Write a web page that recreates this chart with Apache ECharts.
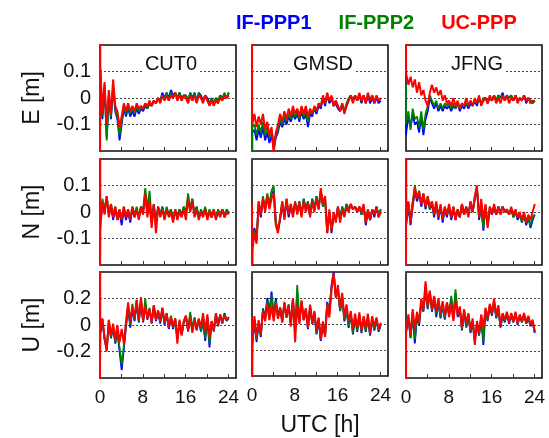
<!DOCTYPE html>
<html lang="en">

<head>
    <meta charset="UTF-8">
    <title>PPP position errors</title>
    <script src="https://cdn.jsdelivr.net/npm/echarts@6/dist/echarts.min.js"></script>
</head>

<body style="margin:0;background:#fff">
    <div id="main" style="width: 549px;height:438px;"></div>

    <script type="text/javascript">
        // epochs: two start epochs (convergence spike), then every 0.4 h
        let hours = [0, 0.02];
        for (let i = 0; i <= 60; i++) hours.push(+(0.05 + 0.4 * i).toFixed(2));

        let stations = ['CUT0', 'GMSD', 'JFNG'];
        let components = ['E', 'N', 'U'];
        let methods = ['IF-PPP1', 'IF-PPP2', 'UC-PPP'];
        let methodColors = ['#0000ff', '#008000', '#ff0000'];
        let xTickLabels = [0, 8, 16, 24];

        // ---- E [m] ----
        let cut0E_if1 = [0.3, -0.3,
            0.11, -0.08, 0.04, -0.15, 0.00, -0.08, 0.04, -0.05, -0.08, -0.16,
            -0.10, -0.04, -0.07, -0.04, -0.07, -0.05, -0.07, -0.04, -0.06, -0.04,
            -0.05, -0.03, -0.04, -0.02, -0.03, -0.01, -0.02, 0.00, -0.01, 0.02,
            0.00, 0.02, 0.00, 0.03, 0.01, 0.02, 0.00, 0.02, 0.00, 0.01,
            0.01, -0.01, 0.02, 0.00, 0.02, -0.01, 0.02, 0.01, -0.01, 0.01,
            0.00, -0.02, 0.00, -0.02, 0.00, -0.01, 0.01, 0.00, 0.01, 0.00, 0.02];
        let cut0E_if2 = [0.3, -0.3,
            0.10, -0.07, 0.05, -0.16, 0.01, -0.07, 0.05, -0.04, -0.07, -0.14,
            -0.09, -0.03, -0.06, -0.03, -0.06, -0.04, -0.06, -0.03, -0.05, -0.04,
            -0.04, -0.02, -0.04, -0.02, -0.03, -0.01, -0.02, 0.00, -0.01, 0.01,
            0.00, 0.02, -0.01, 0.02, 0.00, 0.02, 0.00, 0.02, -0.01, 0.01,
            0.01, -0.01, 0.02, -0.01, 0.02, -0.01, 0.02, 0.00, -0.01, 0.01,
            -0.01, -0.02, 0.00, -0.02, 0.00, -0.01, 0.01, 0.00, 0.02, 0.00, 0.02];
        let cut0E_uc = [-1, 1,
            0.12, -0.06, 0.06, -0.10, 0.03, -0.06, 0.07, -0.03, -0.05, -0.11,
            -0.07, -0.02, -0.05, -0.02, -0.05, -0.03, -0.05, -0.02, -0.04, -0.03,
            -0.04, -0.02, -0.03, -0.01, -0.03, -0.01, -0.02, 0.00, -0.02, 0.01,
            -0.01, 0.01, -0.01, 0.01, 0.00, 0.02, -0.01, 0.01, -0.01, 0.01,
            0.00, -0.02, 0.01, -0.01, 0.01, -0.02, 0.01, 0.00, -0.02, 0.01,
            -0.01, -0.03, -0.01, -0.03, -0.01, -0.02, 0.00, -0.01, 0.01, 0.00, 0.01];

        let gmsdE_if1 = [0.0, -0.5,
            -0.13, -0.12, -0.16, -0.12, -0.15, -0.11, -0.16, -0.13, -0.17, -0.14,
            -0.19, -0.15, -0.13, -0.09, -0.11, -0.08, -0.10, -0.07, -0.09, -0.06,
            -0.08, -0.06, -0.09, -0.05, -0.08, -0.06, -0.11, -0.06, -0.07, -0.04,
            -0.06, -0.03, -0.04, 0.00, -0.03, 0.01, -0.02, 0.00, -0.03, -0.02,
            -0.04, -0.05, -0.03, -0.05, -0.03, -0.01, 0.01, -0.01, 0.01, -0.01,
            0.01, -0.02, 0.01, -0.02, 0.01, -0.02, 0.00, -0.02, 0.00, -0.02, -0.01];
        let gmsdE_if2 = [0.0, -0.5,
            -0.11, -0.10, -0.14, -0.10, -0.13, -0.09, -0.14, -0.11, -0.15, -0.12,
            -0.17, -0.14, -0.12, -0.08, -0.10, -0.07, -0.09, -0.06, -0.08, -0.05,
            -0.07, -0.05, -0.08, -0.04, -0.07, -0.05, -0.09, -0.05, -0.06, -0.04,
            -0.05, -0.02, -0.03, 0.00, -0.02, 0.01, -0.01, 0.00, -0.03, -0.01,
            -0.03, -0.05, -0.02, -0.05, -0.02, 0.00, 0.01, -0.01, 0.01, -0.01,
            0.01, -0.01, 0.01, -0.02, 0.01, -0.01, 0.01, -0.01, 0.00, -0.01, 0.00];
        let gmsdE_uc = [1, -0.06,
            -0.10, -0.06, -0.11, -0.07, -0.10, -0.06, -0.12, -0.09, -0.14, -0.11,
            -0.21, -0.13, -0.10, -0.06, -0.09, -0.05, -0.08, -0.04, -0.07, -0.03,
            -0.06, -0.04, -0.07, -0.03, -0.06, -0.03, -0.07, -0.04, -0.06, -0.03,
            -0.05, -0.02, -0.03, 0.01, -0.02, 0.02, -0.01, 0.01, -0.03, -0.01,
            -0.03, -0.05, -0.02, -0.06, -0.03, -0.01, 0.01, -0.02, 0.01, -0.01,
            0.02, -0.01, 0.01, -0.02, 0.02, -0.01, 0.01, -0.02, 0.01, -0.01, 0.00];

        let jfngE_if1 = [0.0, -0.14,
            -0.13, -0.07, -0.11, -0.06, -0.10, -0.09, -0.13, -0.07, -0.14, -0.08,
            -0.05, 0.00, -0.02, -0.04, -0.02, -0.05, -0.03, -0.05, -0.03, -0.04,
            -0.03, -0.05, -0.03, -0.04, -0.02, -0.05, -0.03, -0.04, -0.02, -0.04,
            -0.02, -0.03, -0.01, -0.03, 0.00, -0.02, -0.01, 0.00, -0.02, 0.00,
            -0.01, 0.01, -0.01, 0.01, 0.00, 0.02, -0.01, 0.01, 0.00, 0.01,
            -0.01, 0.01, -0.01, 0.00, -0.01, 0.01, -0.02, 0.00, -0.01, -0.02, -0.01];
        let jfngE_if2 = [0.05, -0.10,
            -0.09, -0.05, -0.12, -0.04, -0.08, -0.07, -0.11, -0.05, -0.12, -0.06,
            -0.03, 0.01, -0.01, -0.03, -0.01, -0.04, -0.02, -0.04, -0.02, -0.03,
            -0.02, -0.04, -0.02, -0.04, -0.02, -0.04, -0.02, -0.03, -0.02, -0.03,
            -0.01, -0.03, -0.01, -0.02, 0.00, -0.02, 0.00, 0.00, -0.01, 0.00,
            -0.01, 0.01, -0.01, 0.01, 0.00, 0.01, -0.01, 0.01, 0.00, 0.01,
            -0.01, 0.01, -0.01, 0.00, -0.01, 0.01, -0.01, 0.00, -0.01, -0.02, -0.01];
        let jfngE_uc = [1, 0.10,
            0.09, 0.05, 0.08, 0.04, 0.07, 0.02, 0.06, 0.01, 0.03, -0.01,
            -0.03, 0.02, 0.05, 0.02, 0.04, 0.01, 0.03, -0.01, 0.01, -0.02,
            -0.01, -0.03, 0.00, -0.03, -0.01, -0.04, -0.02, -0.03, 0.00, -0.03,
            -0.01, -0.03, 0.00, -0.02, 0.01, -0.03, -0.01, 0.00, -0.02, 0.01,
            -0.01, 0.01, -0.02, 0.00, -0.02, 0.01, -0.01, 0.01, -0.02, 0.00,
            -0.01, 0.01, -0.02, 0.00, -0.01, 0.01, -0.01, 0.00, -0.02, -0.01, -0.01];

        // ---- N [m] ----
        let cut0N_if1 = [0.3, -0.3,
            -0.05, 0.03, 0.00, 0.05, -0.01, 0.02, -0.03, 0.01, -0.03, 0.00,
            -0.05, 0.01, -0.03, 0.00, -0.04, 0.01, -0.02, 0.01, -0.02, 0.02,
            0.00, 0.06, 0.00, 0.04, -0.04, 0.03, -0.05, 0.02, -0.01, 0.02,
            -0.02, 0.01, -0.01, 0.01, -0.03, 0.00, -0.02, 0.01, -0.01, 0.02,
            -0.01, 0.05, 0.01, 0.05, -0.01, 0.02, -0.02, 0.00, -0.01, 0.01,
            -0.02, 0.00, -0.02, 0.00, -0.02, 0.00, -0.01, 0.01, -0.02, 0.00, 0.00];
        let cut0N_if2 = [0.3, -0.3,
            -0.04, 0.05, 0.01, 0.06, 0.00, 0.03, -0.01, 0.02, -0.02, 0.01,
            -0.03, 0.02, -0.02, 0.01, -0.03, 0.02, -0.01, 0.02, -0.02, 0.02,
            0.01, 0.09, 0.01, 0.08, -0.03, 0.03, -0.04, 0.02, -0.01, 0.02,
            -0.02, 0.02, -0.01, 0.01, -0.03, 0.01, -0.02, 0.01, -0.01, 0.02,
            0.00, 0.07, 0.01, 0.05, -0.01, 0.02, -0.02, 0.01, -0.01, 0.02,
            -0.02, 0.01, -0.01, 0.01, -0.02, 0.01, -0.01, 0.01, -0.01, 0.01, 0.00];
        let cut0N_uc = [-1, 1,
            -0.06, 0.04, -0.01, 0.06, -0.02, 0.03, -0.02, 0.02, -0.03, 0.01,
            -0.03, 0.02, -0.02, 0.01, -0.03, 0.02, -0.02, 0.01, -0.03, 0.02,
            -0.01, 0.07, -0.02, 0.04, -0.06, 0.03, -0.08, 0.02, -0.02, 0.01,
            -0.03, 0.01, -0.02, 0.00, -0.04, 0.01, -0.03, 0.00, -0.02, 0.01,
            -0.03, 0.05, 0.00, 0.04, -0.02, 0.01, -0.03, 0.00, -0.02, 0.01,
            -0.03, 0.00, -0.02, 0.01, -0.03, 0.00, -0.02, 0.01, -0.02, 0.00, -0.01];

        let gmsdN_if1 = [0.0, -0.5,
            -0.12, -0.06, -0.10, 0.03, -0.02, 0.05, 0.01, 0.06, 0.02, 0.07,
            0.08, -0.04, -0.07, -0.03, 0.03, -0.02, 0.04, -0.02, 0.02, -0.01,
            0.03, 0.00, 0.04, -0.01, 0.05, 0.01, 0.04, -0.01, 0.05, 0.01,
            0.06, 0.01, 0.08, 0.02, 0.05, -0.07, 0.00, -0.08, -0.01, -0.03,
            0.02, -0.03, 0.02, -0.01, 0.03, 0.01, 0.03, 0.01, 0.02, 0.00,
            0.02, -0.01, 0.02, -0.05, 0.00, -0.03, 0.01, -0.02, 0.02, -0.02, 0.01];
        let gmsdN_if2 = [0.0, -0.5,
            -0.13, -0.07, -0.11, 0.04, -0.01, 0.06, 0.01, 0.07, 0.03, 0.08,
            0.10, -0.04, -0.07, -0.02, 0.04, -0.02, 0.05, -0.01, 0.03, -0.01,
            0.04, 0.00, 0.04, -0.01, 0.05, 0.01, 0.04, -0.01, 0.05, 0.01,
            0.06, 0.02, 0.08, 0.02, 0.05, -0.08, 0.00, -0.07, -0.01, -0.03,
            0.02, -0.03, 0.02, -0.01, 0.03, 0.01, 0.03, 0.01, 0.02, 0.00,
            0.02, -0.01, 0.02, -0.04, 0.01, -0.03, 0.01, -0.01, 0.02, -0.01, 0.01];
        let gmsdN_uc = [0.03, -1,
            -0.15, -0.08, -0.12, 0.04, -0.01, 0.05, 0.00, 0.06, 0.01, 0.05,
            0.07, -0.05, -0.08, -0.02, 0.04, -0.03, 0.05, -0.01, 0.03, -0.02,
            0.04, -0.01, 0.03, -0.02, 0.04, 0.00, 0.03, -0.02, 0.04, 0.00,
            0.05, 0.01, 0.09, 0.03, 0.06, -0.08, 0.01, -0.07, 0.00, -0.04,
            0.02, -0.04, 0.01, -0.02, 0.02, 0.00, 0.03, 0.01, 0.02, 0.00,
            0.02, 0.00, 0.03, -0.04, 0.01, -0.03, 0.01, -0.01, 0.02, -0.02, 0.00];

        let jfngN_if1 = [0.3, -0.05,
            -0.05, 0.02, -0.05, 0.02, 0.08, 0.04, 0.07, 0.02, 0.06, 0.01,
            0.05, 0.01, 0.03, -0.02, 0.03, -0.03, 0.02, -0.04, 0.01, -0.02,
            0.02, -0.03, 0.01, -0.03, 0.01, -0.02, 0.03, -0.01, 0.02, -0.01,
            0.03, 0.00, 0.05, 0.09, -0.03, 0.02, -0.07, 0.02, -0.05, 0.01,
            -0.01, 0.02, -0.01, 0.02, 0.00, 0.02, 0.00, 0.01, -0.01, 0.01,
            -0.02, 0.00, -0.03, -0.01, -0.04, -0.01, -0.05, -0.02, -0.06, -0.03, -0.01];
        let jfngN_if2 = [0.3, -0.05,
            -0.04, 0.03, -0.03, 0.04, 0.10, 0.05, 0.08, 0.03, 0.07, 0.02,
            0.06, 0.01, 0.04, -0.01, 0.03, -0.02, 0.02, -0.03, 0.02, -0.01,
            0.02, -0.02, 0.02, -0.02, 0.01, -0.02, 0.03, -0.01, 0.02, -0.01,
            0.04, 0.00, 0.05, 0.09, -0.02, 0.01, -0.06, 0.02, -0.05, 0.02,
            0.00, 0.02, -0.01, 0.02, 0.00, 0.02, 0.00, 0.01, -0.01, 0.01,
            -0.02, 0.00, -0.02, -0.01, -0.04, -0.01, -0.04, -0.02, -0.05, -0.02, -0.01];
        let jfngN_uc = [-1, 1,
            -0.02, 0.04, -0.04, 0.03, 0.09, 0.05, 0.08, 0.03, 0.07, 0.02,
            0.06, 0.02, 0.04, -0.01, 0.04, -0.02, 0.03, -0.03, 0.02, -0.01,
            0.03, -0.02, 0.02, -0.03, 0.01, -0.02, 0.03, -0.01, 0.02, -0.02,
            0.04, 0.00, 0.06, 0.10, -0.02, 0.05, -0.03, 0.03, -0.06, 0.02,
            -0.01, 0.03, -0.01, 0.02, -0.01, 0.02, 0.00, 0.01, -0.01, 0.02,
            -0.01, 0.01, -0.02, 0.00, -0.03, 0.00, -0.04, -0.01, -0.03, 0.00, 0.03];

        // ---- U [m] ----
        let cut0U_if1 = [0.3, -0.3,
            -0.07, 0.03, -0.11, -0.18, 0.02, -0.10, -0.02, -0.14, -0.05, -0.20,
            -0.34, -0.18, -0.02, 0.13, -0.02, 0.12, 0.03, 0.16, 0.02, 0.17,
            0.02, 0.16, 0.04, 0.12, 0.01, 0.14, 0.03, 0.10, 0.01, 0.12,
            0.00, 0.08, -0.03, 0.05, -0.03, 0.04, -0.10, 0.02, -0.07, 0.02,
            0.06, -0.05, 0.07, -0.04, 0.05, -0.04, 0.04, -0.05, 0.02, -0.12,
            0.05, -0.17, 0.02, -0.05, 0.07, -0.01, 0.07, 0.01, 0.09, 0.03, 0.06];
        let cut0U_if2 = [0.3, -0.3,
            -0.06, 0.04, -0.10, -0.19, 0.03, -0.09, -0.01, -0.13, -0.04, -0.17,
            -0.30, -0.16, 0.00, 0.15, 0.00, 0.16, 0.04, 0.19, 0.03, 0.20,
            0.03, 0.20, 0.05, 0.13, 0.02, 0.15, 0.04, 0.11, 0.02, 0.13,
            0.01, 0.09, -0.02, 0.07, -0.02, 0.05, -0.10, 0.03, -0.07, 0.03,
            0.07, -0.04, 0.10, -0.03, 0.06, -0.03, 0.04, -0.04, 0.03, -0.10,
            0.06, -0.14, 0.03, -0.04, 0.08, 0.00, 0.08, 0.02, 0.08, 0.04, 0.05];
        let cut0U_uc = [-1, 1,
            -0.05, 0.05, -0.09, -0.20, 0.04, -0.08, 0.01, -0.11, 0.00, -0.13,
            -0.03, -0.14, 0.02, 0.17, 0.02, 0.14, 0.05, 0.19, 0.04, 0.21,
            0.03, 0.14, 0.05, 0.12, 0.02, 0.15, 0.04, 0.11, 0.03, 0.13,
            0.02, 0.09, -0.02, 0.06, -0.01, 0.05, -0.14, 0.04, -0.08, 0.03,
            0.07, -0.04, 0.06, -0.06, 0.04, -0.03, 0.05, -0.02, 0.09, -0.05,
            0.08, -0.09, 0.03, -0.04, 0.09, 0.00, 0.08, 0.02, 0.07, 0.04, 0.05];

        let gmsdU_if1 = [0.0, -0.5,
            -0.17, 0.03, -0.14, 0.00, -0.10, 0.12, 0.05, 0.20, 0.09, 0.25,
            0.06, 0.20, 0.05, 0.13, 0.02, 0.16, 0.05, 0.15, 0.00, 0.19,
            -0.06, 0.24, 0.02, 0.17, 0.03, 0.11, -0.04, 0.13, 0.00, 0.08,
            -0.08, 0.03, -0.13, 0.00, -0.09, 0.17, 0.10, 0.30, 0.40, 0.22,
            0.26, 0.10, 0.20, 0.02, 0.11, -0.03, 0.07, -0.08, 0.05, -0.06,
            0.06, -0.07, 0.04, -0.06, 0.05, -0.09, 0.03, -0.05, 0.03, -0.06, -0.01];
        let gmsdU_if2 = [0.0, -0.5,
            -0.16, 0.04, -0.12, 0.01, -0.09, 0.11, 0.04, 0.18, 0.07, 0.22,
            0.05, 0.18, 0.05, 0.13, 0.02, 0.16, 0.05, 0.15, 0.00, 0.20,
            -0.06, 0.30, 0.02, 0.18, 0.03, 0.12, -0.03, 0.14, 0.00, 0.09,
            -0.07, 0.04, -0.12, 0.01, -0.09, 0.16, 0.08, 0.28, 0.39, 0.21,
            0.27, 0.10, 0.21, 0.03, 0.12, -0.02, 0.08, -0.07, 0.06, -0.05,
            0.07, -0.06, 0.05, -0.05, 0.06, -0.08, 0.04, -0.04, 0.04, -0.05, 0.00];
        let gmsdU_uc = [0.05, -1,
            -0.15, 0.06, -0.10, 0.03, -0.08, 0.10, 0.02, 0.15, 0.03, 0.14,
            0.02, 0.16, 0.04, 0.12, 0.01, 0.17, 0.06, 0.14, -0.02, 0.20,
            -0.14, 0.15, 0.00, 0.18, 0.03, 0.12, -0.03, 0.15, 0.01, 0.10,
            -0.05, 0.05, -0.12, 0.02, -0.10, 0.15, 0.05, 0.26, 0.39, 0.20,
            0.30, 0.12, 0.24, 0.05, 0.15, 0.02, 0.10, -0.04, 0.08, -0.03,
            0.09, -0.05, 0.06, -0.03, 0.08, -0.07, 0.06, -0.02, 0.05, -0.04, 0.01];

        let jfngU_if1 = [-0.5, 0.0,
            -0.05, 0.05, -0.10, 0.08, -0.14, 0.06, 0.00, 0.17, 0.10, 0.26,
            0.12, 0.24, 0.10, 0.20, 0.06, 0.17, 0.05, 0.15, 0.04, 0.16,
            0.08, 0.20, 0.05, 0.24, 0.06, 0.12, -0.04, 0.10, -0.02, 0.07,
            -0.06, 0.02, -0.12, 0.00, -0.08, 0.05, -0.15, 0.10, 0.03, 0.14,
            0.07, 0.17, 0.05, 0.12, -0.02, 0.07, 0.02, 0.08, 0.01, 0.07,
            0.02, 0.08, 0.00, 0.07, 0.02, 0.08, 0.01, 0.05, -0.01, 0.02, -0.06];
        let jfngU_if2 = [-0.5, 0.0,
            -0.04, 0.06, -0.09, 0.10, -0.11, 0.08, 0.01, 0.18, 0.11, 0.28,
            0.13, 0.25, 0.11, 0.21, 0.08, 0.18, 0.06, 0.16, 0.05, 0.17,
            0.08, 0.22, 0.06, 0.27, 0.08, 0.13, -0.03, 0.11, -0.01, 0.08,
            -0.05, 0.03, -0.11, 0.01, -0.07, 0.06, -0.12, 0.11, 0.04, 0.15,
            0.08, 0.18, 0.06, 0.13, -0.01, 0.08, 0.03, 0.09, 0.02, 0.08,
            0.02, 0.09, 0.01, 0.07, 0.02, 0.08, 0.01, 0.06, 0.00, 0.03, -0.05];
        let jfngU_uc = [-1, 0.0,
            -0.03, 0.08, -0.08, 0.12, -0.03, 0.10, 0.02, 0.20, 0.12, 0.33,
            0.15, 0.26, 0.12, 0.22, 0.10, 0.20, 0.09, 0.18, 0.07, 0.17,
            0.06, 0.16, 0.03, 0.18, 0.08, 0.14, -0.02, 0.12, 0.01, 0.09,
            -0.04, 0.05, -0.15, 0.03, -0.06, 0.08, -0.02, 0.13, 0.05, 0.16,
            0.09, 0.20, 0.07, 0.15, -0.01, 0.09, 0.04, 0.10, 0.02, 0.09,
            0.03, 0.10, 0.01, 0.08, 0.03, 0.09, 0.02, 0.07, 0.00, 0.04, -0.05];

        // panel data [row][col] -> [IF-PPP1, IF-PPP2, UC-PPP]
        let panels = [
            [[cut0E_if1, cut0E_if2, cut0E_uc], [gmsdE_if1, gmsdE_if2, gmsdE_uc], [jfngE_if1, jfngE_if2, jfngE_uc]],
            [[cut0N_if1, cut0N_if2, cut0N_uc], [gmsdN_if1, gmsdN_if2, gmsdN_uc], [jfngN_if1, jfngN_if2, jfngN_uc]],
            [[cut0U_if1, cut0U_if2, cut0U_uc], [gmsdU_if1, gmsdU_if2, gmsdU_uc], [jfngU_if1, jfngU_if2, jfngU_uc]]
        ];
        let yLimits = [0.2, 0.2, 0.4];

        let colLeft = [100, 252, 406];
        let rowTop = [45, 159, 272];
        let panelW = 136, panelH = 106;
        let font = 'Liberation Sans';

        let grids = [], xAxes = [], yAxes = [], series = [], titles = [];
        let k = 0;
        for (let r = 0; r < 3; r++) {
            for (let c = 0; c < 3; c++) {
                grids.push({
                    left: colLeft[c], top: rowTop[r], width: panelW, height: panelH,
                    show: true, borderColor: '#111', borderWidth: 1.6
                });
                xAxes.push({
                    gridIndex: k, type: 'value', min: 0, max: 25.4, interval: 4,
                    axisLine: { show: false, onZero: false },
                    axisTick: { inside: true, length: 4, lineStyle: { color: '#333' } },
                    splitLine: { show: false },
                    axisLabel: {
                        show: r === 2, margin: 10, fontSize: 19, color: '#111', fontFamily: font,
                        formatter: v => xTickLabels.indexOf(v) >= 0 ? String(v) : ''
                    },
                    name: (r === 2 && c === 1) ? 'UTC [h]' : '',
                    nameLocation: 'middle', nameGap: 38,
                    nameTextStyle: { fontSize: 23, color: '#111', fontFamily: font }
                });
                let lim = yLimits[r];
                yAxes.push({
                    gridIndex: k, type: 'value', min: -lim, max: lim, interval: lim / 2,
                    axisLine: { show: false, onZero: false },
                    axisTick: { show: false },
                    splitLine: { show: true, lineStyle: { type: [2, 2], color: '#444', width: 1 } },
                    axisLabel: {
                        show: c === 0, margin: 9, fontSize: 20, color: '#111', fontFamily: font,
                        formatter: v => Math.abs(v) > lim * 0.99 ? '' : String(+v.toFixed(2))
                    },
                    name: c === 0 ? components[r] + ' [m]' : '',
                    nameLocation: 'middle', nameGap: 56, nameRotate: 90,
                    nameTextStyle: { fontSize: 23, color: '#111', fontFamily: font }
                });
                for (let m = 0; m < 3; m++) {
                    series.push({
                        name: methods[m], type: 'line',
                        xAxisIndex: k, yAxisIndex: k,
                        data: panels[r][c][m].map((v, i) => [hours[i], v]),
                        showSymbol: false, symbol: 'none', clip: true,
                        lineStyle: { color: methodColors[m], width: m === 2 ? 2 : 1.8 },
                        itemStyle: { color: methodColors[m] },
                        z: 2 + m
                    });
                }
                k++;
            }
            titles.push({
                text: stations[r], left: colLeft[r] + panelW / 2, top: 54, textAlign: 'center',
                backgroundColor: '#fff', padding: [0, 3],
                textStyle: { fontSize: 20, fontWeight: 'normal', color: '#111', fontFamily: font }
            });
        }

        let myChart = echarts.init(document.getElementById('main'));
        myChart.setOption({
            animation: false,
            backgroundColor: '#fff',
            title: titles,
            legend: {
                left: 226, top: 8, itemWidth: 0, itemHeight: 0, itemGap: 22,
                textStyle: { fontSize: 20, fontWeight: 'bold', fontFamily: font },
                data: methods.map((m, i) => ({ name: m, icon: 'rect', textStyle: { color: methodColors[i] } }))
            },
            grid: grids,
            xAxis: xAxes,
            yAxis: yAxes,
            series: series
        });
    </script>
</body>

</html>
